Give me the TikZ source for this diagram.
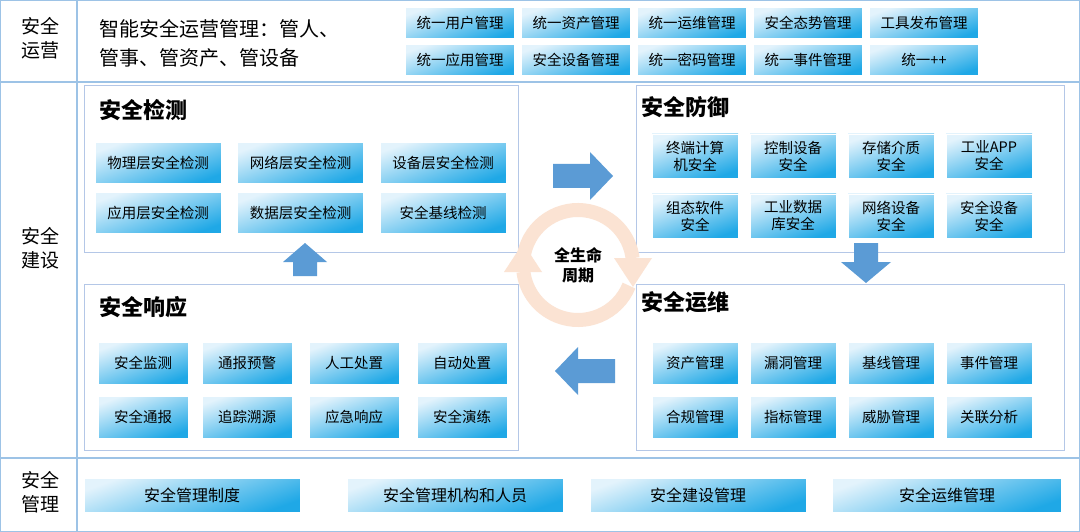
\documentclass[tikz,border=0pt]{standalone}
\usepackage{fontspec}
\setmainfont{Noto Sans CJK SC}
\begin{document}
\begin{tikzpicture}[x=1pt,y=-1pt,
  frame/.style={draw=lineb,line width=1.2pt},
  panel/.style={draw=panelb,line width=1pt,fill=white},
  bx/.style={draw=white,line width=0.6pt,top color=boxl,bottom color=boxd,shading angle=20,font=\fontsize{14.5}{17}\selectfont,align=center,inner sep=0pt},
  sec/.style={font=\fontsize{19}{24}\selectfont,align=center},
  ttl/.style={font=\fontsize{22}{26}\selectfont\bfseries,anchor=west},
  blk/.style={fill=arrowb,draw=none},
  ring/.style={draw=ringc,line width=14pt}]
\definecolor{lineb}{HTML}{9DC3E6}
\definecolor{panelb}{HTML}{B4C7E7}
\definecolor{boxl}{HTML}{E3F3FC}
\definecolor{boxd}{HTML}{1FA8E6}
\definecolor{arrowb}{HTML}{5B9BD5}
\definecolor{ringc}{HTML}{FBE3D3}
\useasboundingbox (0,0) rectangle (1080,532);
\fill[white] (0,0) rectangle (1080,532);
\draw[frame] (0.6,0.6) rectangle (1079.4,531.4);
\draw[frame] (0,82) -- (1080,82);
\draw[frame] (0,458) -- (1080,458);
\draw[frame] (77,0) -- (77,532);
\node[sec] (l1) at (40,38) {安全\\运营};
\node[sec] (l2) at (40,248) {安全\\建设};
\node[sec] (l3) at (40,492) {安全\\管理};
\node[font=\fontsize{20}{29}\selectfont,align=left,anchor=west] (intro) at (96,43) {智能安全运营管理：管人、\\管事、管资产、管设备};
% top boxes
\foreach \t [count=\i from 0] in {统一用户管理,统一资产管理,统一运维管理,安全态势管理,工具发布管理}
  \node[bx,minimum width=109pt,minimum height=31pt] (ta\i) at (460+116*\i,23) {\t};
\foreach \t [count=\i from 0] in {统一应用管理,安全设备管理,统一密码管理,统一事件管理,统一++}
  \node[bx,minimum width=109pt,minimum height=31pt] (tb\i) at (460+116*\i,60) {\t};
% panels
\draw[panel] (84,86) rectangle (518,252);
\draw[panel] (636,86) rectangle (1064,252);
\draw[panel] (84,284) rectangle (518,450);
\draw[panel] (636,284) rectangle (1064,450);
\node[ttl] (t1) at (96,110) {安全检测};
\node[ttl] (t2) at (638,107) {安全防御};
\node[ttl] (t3) at (96,307) {安全响应};
\node[ttl] (t4) at (638,302) {安全运维};
% detect
\foreach \t [count=\i from 0] in {物理层安全检测,网络层安全检测,设备层安全检测}
  \node[bx,minimum width=126pt,minimum height=41pt] (da\i) at (158+142.5*\i,163) {\t};
\foreach \t [count=\i from 0] in {应用层安全检测,数据层安全检测,安全基线检测}
  \node[bx,minimum width=126pt,minimum height=41pt] (db\i) at (158+142.5*\i,213) {\t};
% defense
\foreach \t [count=\i from 0] in {终端计算\\机安全,控制设备\\安全,存储介质\\安全,工业APP\\安全}
  \node[bx,minimum width=86pt,minimum height=44pt] (fa\i) at (695+98*\i,156) {\t};
\foreach \t [count=\i from 0] in {组态软件\\安全,工业数据\\库安全,网络设备\\安全,安全设备\\安全}
  \node[bx,minimum width=86pt,minimum height=44pt] (fb\i) at (695+98*\i,216) {\t};
% response
\foreach \t/\x [count=\i from 0] in {安全监测/143,通报预警/247,人工处置/354,自动处置/462}
  \node[bx,minimum width=90pt,minimum height=42pt] (ra\i) at (\x,363) {\t};
\foreach \t/\x [count=\i from 0] in {安全通报/143,追踪溯源/247,应急响应/354,安全演练/462}
  \node[bx,minimum width=90pt,minimum height=42pt] (rb\i) at (\x,417) {\t};
% ops
\foreach \t [count=\i from 0] in {资产管理,漏洞管理,基线管理,事件管理}
  \node[bx,minimum width=86pt,minimum height=42pt] (oa\i) at (695+98*\i,363) {\t};
\foreach \t [count=\i from 0] in {合规管理,指标管理,威胁管理,关联分析}
  \node[bx,minimum width=86pt,minimum height=42pt] (ob\i) at (695+98*\i,417) {\t};
% bottom
\foreach \t/\x/\w [count=\i from 0] in {安全管理制度/192/216,安全管理机构和人员/455/216,安全建设管理/698/216,安全运维管理/947/229}
  \node[bx,minimum width=\w pt,minimum height=34pt,font=\fontsize{16}{19}\selectfont] (m\i) at (\x,495) {\t};
% block arrows
\fill[blk] (553,164) -- (590,164) -- (590,152) -- (613,176) -- (590,200) -- (590,188) -- (553,188) -- cycle;
\fill[blk] (854,243) -- (878,243) -- (878,262) -- (891,262) -- (866,283) -- (841,262) -- (854,262) -- cycle;
\fill[blk] (615,359) -- (578,359) -- (578,347) -- (555,371) -- (578,395) -- (578,383) -- (615,383) -- cycle;
\fill[blk] (293,276) -- (317,276) -- (317,262) -- (327,262) -- (305,243) -- (283,262) -- (293,262) -- cycle;
% lifecycle ring
\draw[ring] ([shift={(578,265)}]-168:55) arc[start angle=-168,end angle=-7,radius=55];
\fill[ringc] (614,258) -- (652,258) -- (633,287) -- cycle;
\draw[ring] ([shift={(578,265)}]22:55) arc[start angle=22,end angle=173,radius=55];
\fill[ringc] (504,272) -- (542,272) -- (523,243) -- cycle;
\node[font=\fontsize{16}{20}\selectfont\bfseries,align=center] (life) at (578,265) {全生命\\周期};
\end{tikzpicture}
\end{document}
